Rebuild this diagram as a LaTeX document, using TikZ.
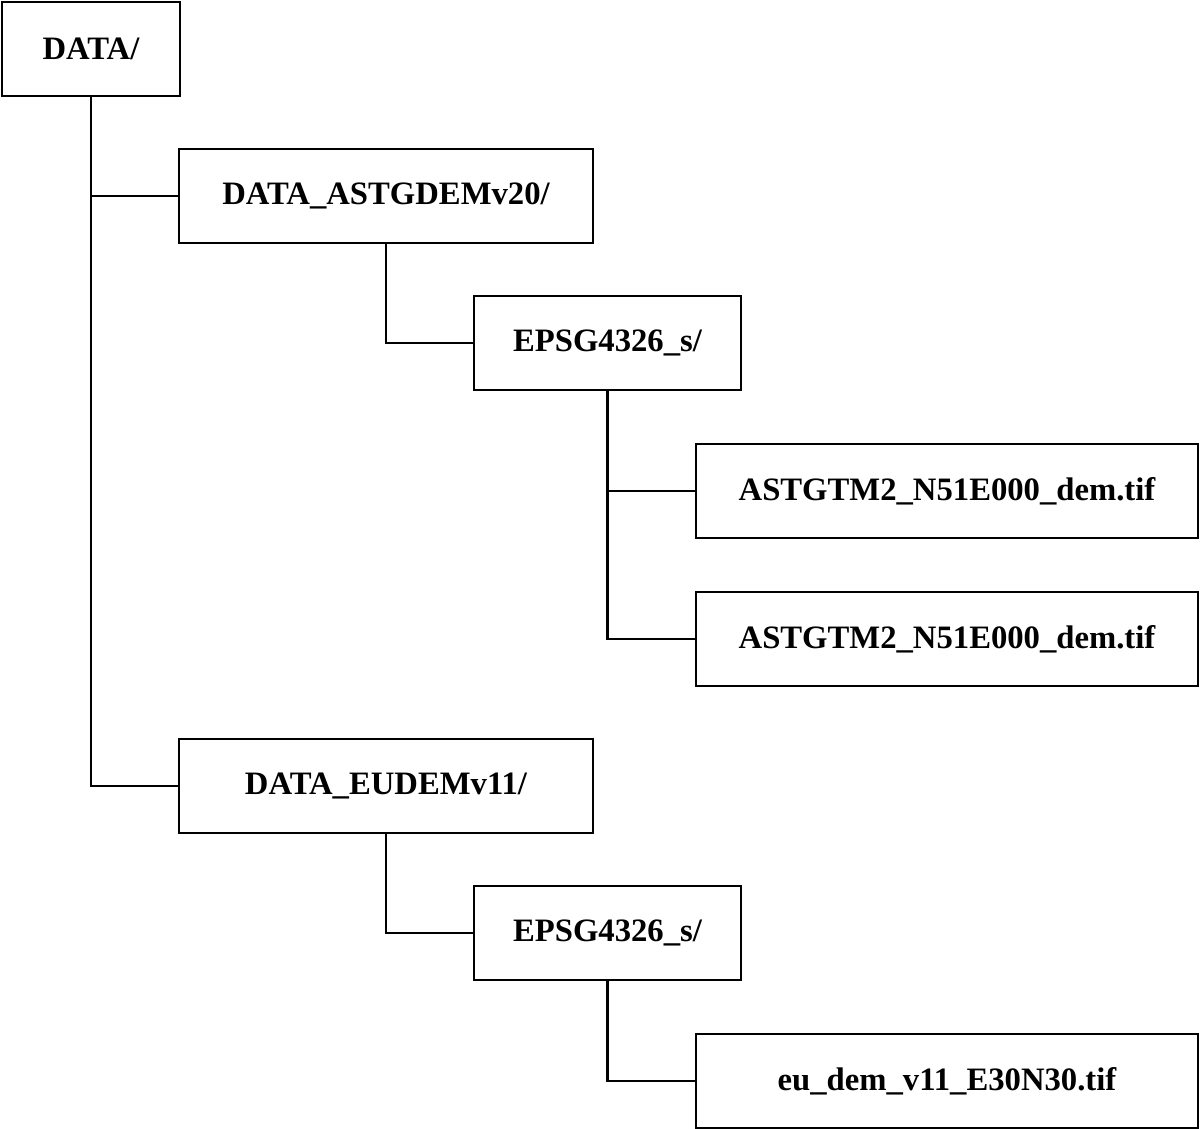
\documentclass[tikz,border=0pt]{standalone}
\usepackage{fontspec}
\setmainfont{Liberation Serif}
\begin{document}
\begin{tikzpicture}[x=0.02cm,y=-0.02cm,
  box/.style={draw,line width=1.6pt,rectangle,minimum height=94*0.02cm,inner sep=0pt,font=\fontsize{18.6}{21}\selectfont\bfseries},
  conn/.style={line width=1.5pt}]
\useasboundingbox (0,0) rectangle (1200,1129);
\node[box,minimum width=178*0.02cm] (data) at (91,49) {DATA/};
\node[box,minimum width=414*0.02cm] (astg) at (386,196) {DATA\_ASTGDEMv20/};
\node[box,minimum width=267*0.02cm] (epsg1) at (607.5,343) {EPSG4326\_s/};
\node[box,minimum width=502*0.02cm] (tif1) at (947,491) {ASTGTM2\_N51E000\_dem.tif};
\node[box,minimum width=502*0.02cm] (tif2) at (947,639) {ASTGTM2\_N51E000\_dem.tif};
\node[box,minimum width=414*0.02cm] (eu) at (386,786) {DATA\_EUDEMv11/};
\node[box,minimum width=267*0.02cm] (epsg2) at (607.5,933) {EPSG4326\_s/};
\node[box,minimum width=502*0.02cm] (tif3) at (947,1081) {eu\_dem\_v11\_E30N30.tif};
\draw[conn] (data.south) |- (eu.west);
\draw[conn] (data.south |- astg.west) -- (astg.west);
\draw[conn] (astg.south) |- (epsg1.west);
\draw[conn] (epsg1.south) |- (tif2.west);
\draw[conn] (epsg1.south |- tif1.west) -- (tif1.west);
\draw[conn] (eu.south) |- (epsg2.west);
\draw[conn] (epsg2.south) |- (tif3.west);
\end{tikzpicture}
\end{document}
